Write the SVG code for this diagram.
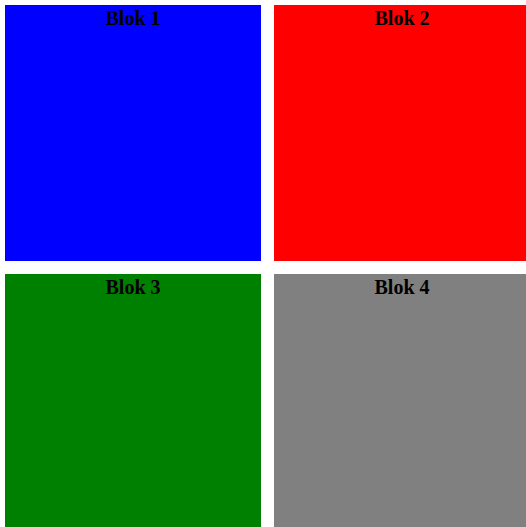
<svg xmlns="http://www.w3.org/2000/svg" width="526" height="527" viewBox="0 0 526 527">
<style>
.t{font-family:"Liberation Serif","Times New Roman",serif;font-weight:bold;font-size:20px;fill:#000;text-anchor:middle}
</style>
<rect width="526" height="527" fill="#fff"/>
<g id="blok1"><rect x="5" y="5" width="256" height="256" fill="#0000ff"/><text class="t" x="133" y="25">Blok 1</text></g>
<g id="blok2"><rect x="274" y="5" width="256" height="256" fill="#ff0000"/><text class="t" x="402" y="25">Blok 2</text></g>
<g id="blok3"><rect x="5" y="274" width="256" height="256" fill="#008000"/><text class="t" x="133" y="294">Blok 3</text></g>
<g id="blok4"><rect x="274" y="274" width="256" height="256" fill="#808080"/><text class="t" x="402" y="294">Blok 4</text></g>
</svg>
